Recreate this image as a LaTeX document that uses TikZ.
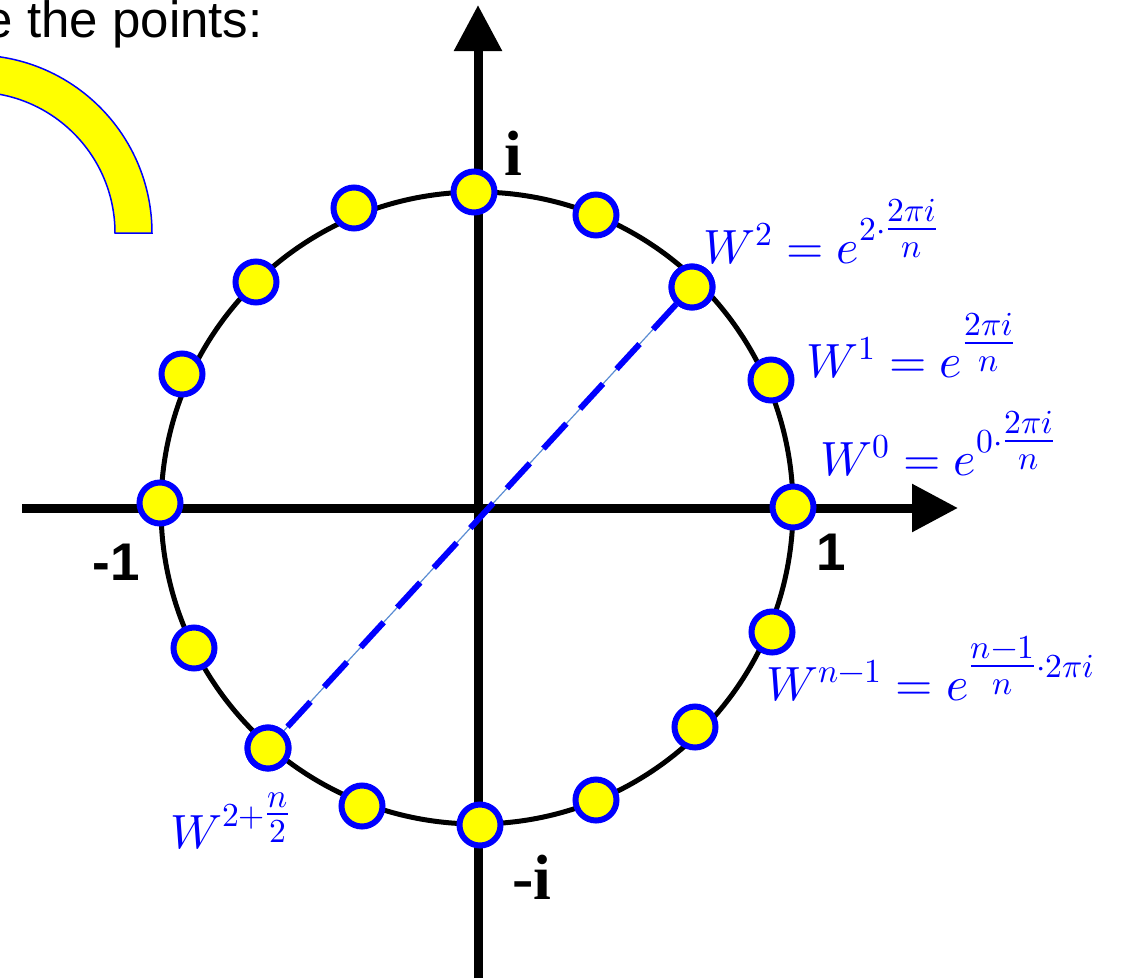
\documentclass[tikz,border=0pt]{standalone}
\usepackage{fontspec}
\usepackage{unicode-math}
\setmainfont{Liberation Serif}
\setsansfont{Liberation Sans}
\setmathfont{Latin Modern Math}
\usetikzlibrary{arrows.meta}
\definecolor{RootBlue}{RGB}{0,0,255}
\definecolor{RootYellow}{RGB}{255,255,0}
\definecolor{RootThin}{RGB}{90,140,210}

\begin{document}
\begin{tikzpicture}[x=0.5pt,y=-0.5pt,
  dot/.style={circle,draw=RootBlue,fill=RootYellow,line width=3pt,minimum size=20.5pt,inner sep=0pt},
  axis/.style={line width=4.5pt,-{Triangle[length=23pt,width=23pt]}},
  axlab/.style={inner sep=0pt,font=\sffamily\bfseries\fontsize{26.5}{30}\selectfont},
  imlab/.style={inner sep=0pt,font=\rmfamily\bfseries\fontsize{32}{36}\selectfont},
  wlab/.style={inner sep=0pt,text=RootBlue,anchor=base west,font=\fontsize{24}{28}\selectfont},
  band/.style={fill=RootYellow,draw=RootBlue,line width=0.75pt}]
\path[use as bounding box,clip] (0,0) rectangle (1130,980);
\node[inner sep=0pt,anchor=base east,font=\sffamily\fontsize{25.5}{30}\selectfont] (title) at (263,37) {e the points:};
\filldraw[band] (152,233) arc[start angle=0,end angle=-180,radius=178] -- (-167,233)
   arc[start angle=-180,end angle=0,radius=141] -- cycle;
% axes
\coordinate (O) at (477,508);
\coordinate (xl) at (22,508);
\coordinate (xr) at (958,508);
\coordinate (yb) at (478,978);
\coordinate (yt) at (478,5);
\draw[axis] (xl) -- (xr);
\draw[axis] (yb) -- (yt);
\draw[line width=2.5pt] (O) circle[radius=316];
\foreach \k/\x/\y in {0/793/507,1/771/380,2/692/287,3/596/215,4/474/192,5/354/208,
   6/256/282,7/182/374,8/160/503,9/194/648,10/268/748,11/362/806,12/480/825,
   13/596/800,14/695/727,15/772/632} {
   \node[dot] (w\k) at (\x,\y) {};
}
\draw[RootThin,line width=0.6pt] (w2.center) -- (w10.center);
\draw[RootBlue,line width=3pt,dash pattern=on 17pt off 10pt] (w2) -- (w10);
\node[dot] at (w2) {};
\node[dot] at (w10) {};
\node[axlab,anchor=base west] (one) at (816,570) {1};
\node[axlab,anchor=base west] (mone) at (92,580) {-1};
\node[imlab,anchor=base west] (im) at (504,175) {i};
\node[imlab,anchor=base west] (mim) at (512,899) {-i};
\node[wlab] (l2) at (703,263) {$W^2=e^{2\cdot\tfrac{2\pi i}{n}}$};
\node[wlab] (l1) at (806,377) {$W^1=e^{\tfrac{2\pi i}{n}}$};
\node[wlab] (l0) at (820,475) {$W^0=e^{0\cdot\tfrac{2\pi i}{n}}$};
\node[wlab] (ln) at (766,700) {$W^{n-1}=e^{\tfrac{n-1}{n}\cdot 2\pi i}$};
\node[wlab] (lh) at (170,848) {$W^{2+\tfrac{n}{2}}$};
\end{tikzpicture}
\end{document}
